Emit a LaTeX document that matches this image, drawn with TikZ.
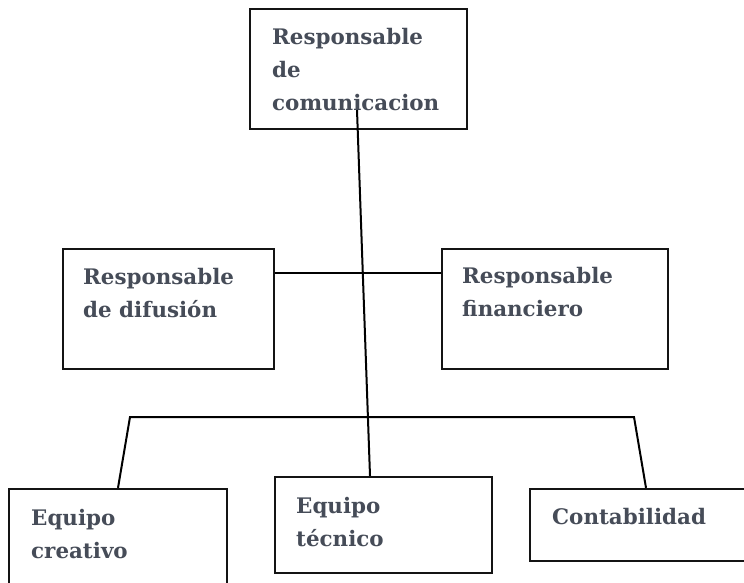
\documentclass[tikz,border=0pt]{standalone}
\usepackage{fontspec}
\setmainfont{DejaVu Serif}
\usetikzlibrary{calc}
\definecolor{txtgray}{RGB}{70,76,88}
\begin{document}
\begin{tikzpicture}[x=1pt,y=-1pt,
  box/.style={draw=black!92, line width=2.3pt, rectangle, inner sep=0pt},
  lbl/.style={anchor=base west, inner sep=0pt, text=txtgray,
    font=\fontsize{21.4}{33}\selectfont\bfseries},
  conn/.style={line width=2pt, black}]
\clip (0,0) rectangle (744,582);
\fill[white] (0,0) rectangle (744,582);
% boxes
\node[box, minimum width=217pt, minimum height=120pt] (top) at (358.5,69) {};
\node[box, minimum width=211pt, minimum height=120pt] (dif) at (168.5,309) {};
\node[box, minimum width=226pt, minimum height=120pt] (fin) at (555,309) {};
\node[box, minimum width=218pt, minimum height=131pt] (cre) at (118,554.5) {};
\node[box, minimum width=217pt, minimum height=96pt] (tec) at (383.5,525) {};
\node[box, minimum width=232pt, minimum height=72pt] (con) at (646,525) {};
% texts
\node[lbl] (ttop) at (272,44) {\parbox[t]{200pt}{\raggedright Responsable\\de\\comunicacion}};
\node[lbl] (tdif) at (83,284) {\parbox[t]{200pt}{\raggedright Responsable\\de difusión}};
\node[lbl] (tfin) at (462,283) {\parbox[t]{200pt}{\raggedright Responsable\\financiero}};
\node[lbl] (tcre) at (31,525) {\parbox[t]{200pt}{\raggedright Equipo\\creativo}};
\node[lbl] (ttec) at (296,513) {\parbox[t]{200pt}{\raggedright Equipo\\técnico}};
\node[lbl] (tcon) at (552,524) {Contabilidad};
% connectors
\coordinate (stem) at (357,110);
\coordinate (bl) at (130,417);
\coordinate (br) at (634,417);
\draw[conn] (stem) -- ([xshift=-13.5pt]tec.north);
\draw[conn] ([yshift=36pt]dif.east) -- ([yshift=36pt]fin.west);
\draw[conn] (cre.north) -- (bl) -- (br) -- (con.north);
\end{tikzpicture}
\end{document}
